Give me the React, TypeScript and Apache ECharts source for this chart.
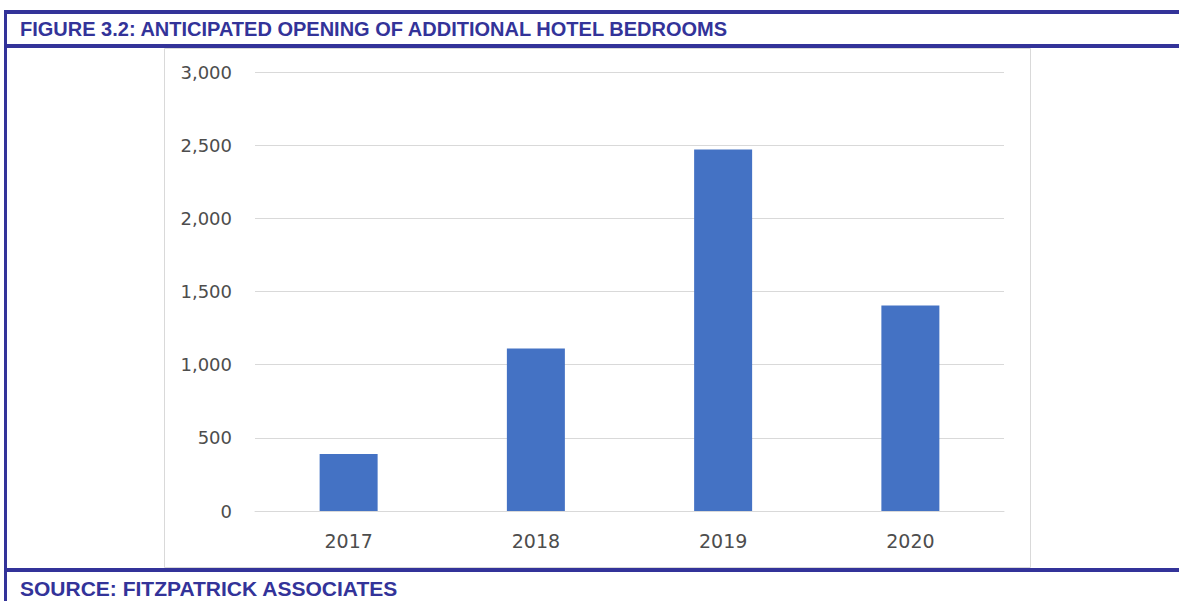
import React, { useEffect, useRef } from "react";
import * as echarts from "echarts";

const categories = ["2017", "2018", "2019", "2020"];
const bedrooms = [390, 1110, 2470, 1405];
const yTicks = { min: 0, max: 3000, interval: 500 };

const titleText = "FIGURE 3.2: ANTICIPATED OPENING OF ADDITIONAL HOTEL BEDROOMS";
const sourceText = "SOURCE: FITZPATRICK ASSOCIATES";

const BLUE = "#333399";

export default function App() {
  const ref = useRef<HTMLDivElement>(null);
  useEffect(() => {
    if (!ref.current) return;
    const chart = echarts.init(ref.current, null, { renderer: "svg" });
    chart.setOption({
      animation: false,
      backgroundColor: "#ffffff",
      title: [
        {
          text: titleText,
          left: 15,
          top: 14,
          textStyle: { color: BLUE, fontSize: 20, fontWeight: "bold", fontFamily: "Liberation Sans" },
        },
        {
          text: sourceText,
          left: 15,
          top: 573,
          textStyle: { color: BLUE, fontSize: 21, fontWeight: "bold", fontFamily: "Liberation Sans" },
        },
      ],
      graphic: [
        { type: "rect", shape: { x: 164.5, y: 48.5, width: 866, height: 519 }, style: { fill: "#ffffff", stroke: "#d9d9d9", lineWidth: 1 }, z: -10 },
        { type: "rect", shape: { x: 4, y: 10, width: 1175, height: 4 }, style: { fill: BLUE } },
        { type: "rect", shape: { x: 4, y: 44, width: 1175, height: 4 }, style: { fill: BLUE } },
        { type: "rect", shape: { x: 4, y: 568, width: 1175, height: 4 }, style: { fill: BLUE } },
        { type: "rect", shape: { x: 4, y: 10, width: 3, height: 591 }, style: { fill: BLUE } },
      ],
      grid: { left: 255, right: 175, top: 72, bottom: 90, containLabel: false },
      xAxis: {
        type: "category",
        data: categories,
        axisLine: { lineStyle: { color: "#d9d9d9", width: 1 } },
        axisTick: { show: false },
        axisLabel: { color: "#4d4d4d", fontSize: 19, fontFamily: "DejaVu Sans", margin: 20 },
      },
      yAxis: {
        type: "value",
        min: yTicks.min,
        max: yTicks.max,
        interval: yTicks.interval,
        axisLine: { show: false },
        axisTick: { show: false },
        splitLine: { lineStyle: { color: "#d9d9d9", width: 1 } },
        axisLabel: {
          color: "#4d4d4d",
          fontSize: 18,
          fontFamily: "DejaVu Sans",
          margin: 23,
          formatter: (v: number) => v.toLocaleString("en-US"),
        },
      },
      series: [
        {
          type: "bar",
          data: bedrooms,
          barWidth: 58,
          itemStyle: { color: "#4472C4" },
        },
      ],
    });
    return () => chart.dispose();
  }, []);
  return (
    <div
      ref={ref}
      style={{ position: "absolute", left: 0, top: 0, width: 1179, height: 601 }}
    />
  );
}
